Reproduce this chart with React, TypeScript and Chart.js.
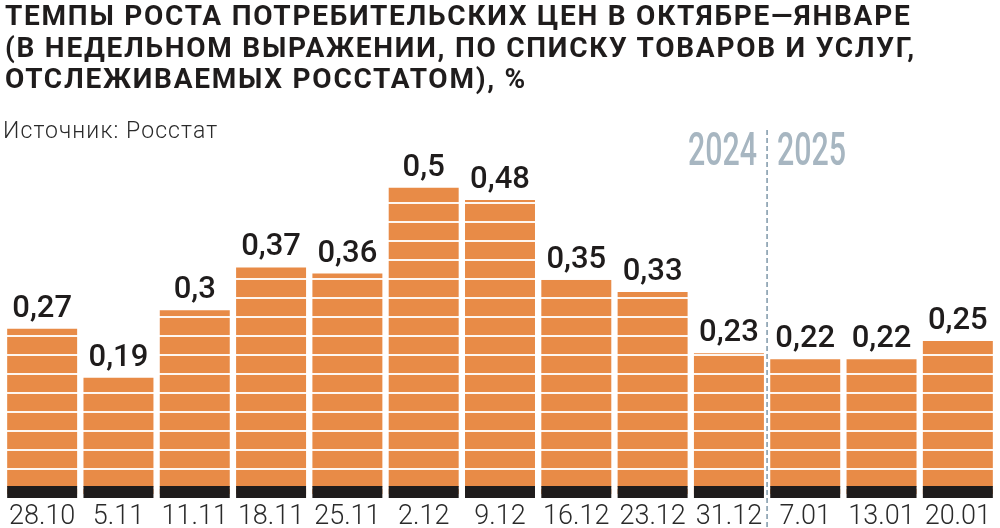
import React, { useEffect, useRef } from "react";
import { Chart, registerables } from "chart.js";

Chart.register(...registerables);

const categories = ["28.10", "5.11", "11.11", "18.11", "25.11", "2.12", "9.12", "16.12", "23.12", "31.12", "7.01", "13.01", "20.01"];
const values = [0.27, 0.19, 0.3, 0.37, 0.36, 0.5, 0.48, 0.35, 0.33, 0.23, 0.22, 0.22, 0.25];
const yearLeft = "2024";
const yearRight = "2025";
const yearSplitAfter = 9; // index of last 2024 category
const titleLines = [
  "ТЕМПЫ РОСТА ПОТРЕБИТЕЛЬСКИХ ЦЕН В ОКТЯБРЕ—ЯНВАРЕ",
  "(В НЕДЕЛЬНОМ ВЫРАЖЕНИИ, ПО СПИСКУ ТОВАРОВ И УСЛУГ,",
  "ОТСЛЕЖИВАЕМЫХ РОССТАТОМ), %",
];
const sourceText = "Источник: Росстат";

const GRID_STEP = 0.031;
const GRID_OFFSET = 0.0098;
const Y_MAX = 0.56;
const FONT = "Roboto, 'Noto Sans', sans-serif";

const fmt = (v: number) => String(v).replace(".", ",");

const overlayPlugin = {
  id: "overlay",
  afterDraw(chart: any) {
    const ctx = chart.ctx;
    const meta = chart.getDatasetMeta(0);
    const area = chart.chartArea;
    ctx.save();
    // black base band + value labels
    meta.data.forEach((el: any, i: number) => {
      const { x, y, width } = el.getProps(["x", "y", "width"], true);
      ctx.fillStyle = "#1f1c1c";
      ctx.fillRect(x - width / 2, area.bottom - 8, width, 12);
      ctx.fillStyle = "#1f1c1c";
      ctx.font = `500 31px ${FONT}`;
      ctx.textAlign = "center";
      ctx.textBaseline = "alphabetic";
      ctx.fillText(fmt(values[i]), x, y - 12);
    });
    // year divider
    const xs = chart.scales.x;
    const xd = (xs.getPixelForValue(yearSplitAfter) + xs.getPixelForValue(yearSplitAfter + 1)) / 2;
    ctx.strokeStyle = "#7e97a8";
    ctx.lineWidth = 1.5;
    ctx.setLineDash([5, 3]);
    ctx.beginPath();
    ctx.moveTo(xd, 130);
    ctx.lineTo(xd, chart.height);
    ctx.stroke();
    ctx.setLineDash([]);
    ctx.fillStyle = "#a7b6c1";
    ctx.font = `500 46px ${FONT}`;
    ctx.textBaseline = "alphabetic";
    const sx = 0.66;
    ctx.save();
    ctx.translate(xd - 10, 165);
    ctx.scale(sx, 1);
    ctx.textAlign = "right";
    ctx.fillText(yearLeft, 0, 0);
    ctx.restore();
    ctx.save();
    ctx.translate(xd + 10, 165);
    ctx.scale(sx, 1);
    ctx.textAlign = "left";
    ctx.fillText(yearRight, 0, 0);
    ctx.restore();
    ctx.restore();
  },
};

export default function App() {
  const ref = useRef<HTMLCanvasElement>(null);
  useEffect(() => {
    if (!ref.current) return;
    const chart = new Chart(ref.current, {
      type: "bar",
      data: {
        labels: categories,
        datasets: [
          {
            data: values,
            backgroundColor: "#e88b47",
            borderWidth: 0,
            categoryPercentage: 1,
            barPercentage: 0.917,
          },
        ],
      },
      options: {
        responsive: false,
        animation: false,
        layout: { padding: { top: 151, left: 4, right: 4, bottom: 0 } },
        plugins: { legend: { display: false }, tooltip: { enabled: false }, title: { display: false } },
        scales: {
          x: {
            grid: { display: false, drawTicks: false },
            border: { display: false },
            ticks: {
              color: "#2a2a2a",
              font: { family: FONT, size: 27, weight: "300", lineHeight: 1 },
              padding: 10,
              maxRotation: 0,
              autoSkip: false,
            },
            afterFit: (scale: any) => {
              scale.paddingLeft = 0;
              scale.paddingRight = 0;
              scale.height = 34;
            },
          },
          y: {
            min: 0,
            max: Y_MAX,
            z: 1,
            grid: { color: "rgba(255,255,255,0.92)", lineWidth: 2, drawTicks: false, z: 1 },
            border: { display: false },
            ticks: { display: false },
            afterFit: (scale: any) => {
              scale.width = 0;
            },
            afterBuildTicks: (scale: any) => {
              const t = [];
              for (let v = GRID_OFFSET; v < Y_MAX; v += GRID_STEP) t.push({ value: v });
              scale.ticks = t;
            },
          },
        },
      },
      plugins: [overlayPlugin],
    });
    return () => chart.destroy();
  }, []);

  return (
    <div style={{ position: "fixed", left: 0, top: 0, width: 1000, height: 528, background: "#fff", overflow: "hidden" }}>
      <canvas ref={ref} width={1000} height={528} style={{ position: "absolute", left: 0, top: 0 }} />
      <div
        style={{
          position: "absolute",
          left: 5,
          top: 0,
          fontFamily: FONT,
          fontWeight: 700,
          fontSize: 28,
          lineHeight: "31.5px",
          color: "#1f1c1c",
          letterSpacing: 1.75,
          whiteSpace: "nowrap",
        }}
      >
        {titleLines.map((l, i) => (
          <div key={i}>{l}</div>
        ))}
      </div>
      <div
        style={{
          position: "absolute",
          left: 3,
          top: 118.5,
          fontFamily: FONT,
          fontWeight: 300,
          fontSize: 23,
          lineHeight: "23px",
          letterSpacing: 1.1,
          color: "#2a2a2a",
          whiteSpace: "nowrap",
        }}
      >
        {sourceText}
      </div>
    </div>
  );
}
